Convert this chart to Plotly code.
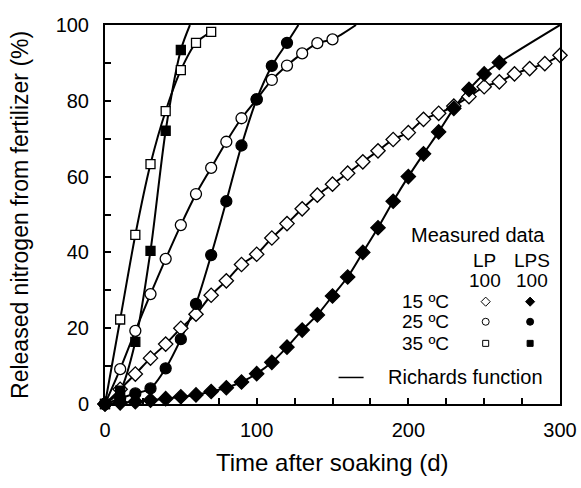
import plotly.graph_objects as go

# ---- data (days after soaking, released N %) ----
days_lp15 = [0, 10, 20, 30, 40, 50, 60, 70, 80, 90, 100, 110, 120, 130, 140, 150, 160,
             170, 180, 190, 200, 210, 220, 230, 240, 250, 260, 270, 280, 290, 300]
lp15 = [0, 3.9, 7.9, 12.1, 15.8, 20.0, 23.7, 28.7, 32.5, 36.8, 39.5, 43.8, 47.6, 51.5,
        55.1, 58.0, 60.9, 63.9, 66.8, 69.8, 71.6, 75.1, 76.7, 78.6, 81.1, 83.7, 85.0,
        87.1, 88.5, 89.8, 92.0]

days_lps15 = [0, 10, 20, 30, 40, 50, 60, 70, 80, 90, 100, 110, 120, 130, 140, 150, 160,
              170, 180, 190, 200, 210, 220, 230, 240, 250, 260]
lps15 = [0, 0.3, 0.6, 1.0, 1.4, 1.9, 2.4, 3.3, 4.3, 5.8, 8.0, 11.0, 15.0, 19.5, 23.5,
         28.5, 33.5, 40.0, 46.5, 53.5, 60.0, 66.0, 71.8, 78.0, 83.0, 87.1, 90.1]

days_lp25 = [0, 10, 20, 30, 40, 50, 60, 70, 80, 90, 100, 110, 120, 130, 140, 150]
lp25 = [0, 9.2, 19.3, 29.0, 38.3, 47.2, 55.4, 62.3, 69.2, 75.4, 80.4, 85.5, 89.3,
        92.5, 95.2, 96.2]

days_lps25 = [0, 10, 20, 30, 40, 50, 60, 70, 80, 90, 100, 110, 120]
lps25 = [0, 1.5, 2.8, 4.1, 9.4, 17.1, 26.4, 39.3, 53.5, 68.2, 80.4, 89.2, 95.3]

days_lp35 = [0, 10, 20, 30, 40, 50, 60, 70]
lp35 = [0, 22.3, 44.6, 63.3, 77.3, 88.1, 95.3, 98.2]

days_lps35 = [0, 10, 20, 30, 40, 50]
lps35 = [0, 3.5, 16.4, 40.4, 72.1, 93.4]

# where each fitted Richards curve leaves the plot (day, %)
curve_end = {
    "lp15": None,
    "lps15": (300, 100),
    "lp25": (165.5, 100),
    "lps25": (127.5, 100),
    "lp35": None,
    "lps35": (56, 100),
}

x_ticks = [0, 100, 200, 300]
y_ticks = [0, 20, 40, 60, 80, 100]
temps = ["15 ºC", "25 ºC", "35 ºC"]

FONT = "Liberation Sans, Arial, sans-serif"

series = [
    ("lp15", days_lp15, lp15, "diamond", "white", 11),
    ("lps15", days_lps15, lps15, "diamond", "black", 11),
    ("lp25", days_lp25, lp25, "circle", "white", 11),
    ("lps25", days_lps25, lps25, "circle", "black", 11),
    ("lp35", days_lp35, lp35, "square", "white", 9),
    ("lps35", days_lps35, lps35, "square", "black", 9),
]

fig = go.Figure()

# Richards function curves
for key, d, v, sym, col, sz in series:
    xs, ys = list(d), list(v)
    if curve_end[key] is not None:
        xs.append(curve_end[key][0])
        ys.append(curve_end[key][1])
    fig.add_trace(go.Scatter(x=xs, y=ys, mode="lines",
                             line=dict(color="black", width=2, shape="spline", smoothing=0.8),
                             showlegend=False, hoverinfo="skip"))

# measured data markers
for key, d, v, sym, col, sz in series:
    fig.add_trace(go.Scatter(x=d, y=v, mode="markers", cliponaxis=False,
                             marker=dict(symbol=sym, size=sz, color=col,
                                         line=dict(color="black", width=1.3)),
                             showlegend=False))

# ---- custom legend ----
leg_col_x = [251, 280.3]
leg_row_y = [27.0, 21.7, 16.0]
leg_syms = ["diamond", "circle", "square"]
for i, s in enumerate(leg_syms):
    for j, col in enumerate(["white", "black"]):
        fig.add_trace(go.Scatter(x=[leg_col_x[j]], y=[leg_row_y[i]], mode="markers",
                                 marker=dict(symbol=s, size=7 if s != "square" else 6, color=col,
                                             line=dict(color="black", width=1)),
                                 showlegend=False, hoverinfo="skip"))
fig.add_trace(go.Scatter(x=[154, 170.5], y=[7.0, 7.0], mode="lines",
                         line=dict(color="black", width=1.5), showlegend=False, hoverinfo="skip"))

ann = []
def txt(x, y, t, size=20, xanchor="center"):
    ann.append(dict(x=x, y=y, xref="x", yref="y", text=t, showarrow=False,
                    font=dict(family=FONT, size=size, color="black"), xanchor=xanchor,
                    yanchor="middle"))

txt(245.7, 44.6, "Measured data")
txt(250.5, 37.8, "LP", size=19)
txt(281.4, 37.8, "LPS", size=19)
txt(250.5, 32.7, "100", size=19)
txt(281.4, 32.7, "100", size=19)
for lab, yy in zip(temps, leg_row_y):
    txt(211.3, yy, lab, size=19)
txt(237.8, 7.2, "Richards function")

# axis titles
ann.append(dict(x=0.5, y=-0.155, xref="paper", yref="paper", text="Time after soaking (d)",
                showarrow=False, font=dict(family=FONT, size=24, color="black"),
                xanchor="center", yanchor="middle"))
ann.append(dict(x=-0.188, y=0.50, xref="paper", yref="paper",
                text="Released nitrogen from fertilizer (%)", textangle=-90,
                showarrow=False, font=dict(family=FONT, size=23, color="black"),
                xanchor="center", yanchor="middle"))

fig.update_layout(
    width=581, height=488,
    margin=dict(l=105, r=21, t=25, b=84, autoexpand=False),
    paper_bgcolor="white", plot_bgcolor="white",
    font=dict(family=FONT, size=20, color="black"),
    annotations=ann,
    showlegend=False,
)
fig.update_xaxes(range=[0, 300], tickvals=x_ticks, ticks="inside", ticklen=6, tickwidth=1.5,
                 tickcolor="black", showline=True, linewidth=2, linecolor="black", mirror=True,
                 showgrid=False, zeroline=False, ticklabelstandoff=7,
                 minor=dict(dtick=25, tick0=0, ticks="inside", ticklen=6, tickwidth=1.5,
                            tickcolor="black", showgrid=False),
                 tickfont=dict(family=FONT, size=20, color="black"))
fig.update_yaxes(range=[0, 100], tickvals=y_ticks, ticks="inside", ticklen=6, tickwidth=1.5,
                 tickcolor="black", showline=True, linewidth=2, linecolor="black", mirror=True,
                 showgrid=False, zeroline=False, ticklabelstandoff=10,
                 minor=dict(dtick=10, tick0=0, ticks="inside", ticklen=6, tickwidth=1.5,
                            tickcolor="black", showgrid=False),
                 tickfont=dict(family=FONT, size=20, color="black"))

fig.write_html("out.html", include_plotlyjs=True, config={"displayModeBar": False},
               post_script="document.body.style.margin='0';document.body.style.padding='0';")
